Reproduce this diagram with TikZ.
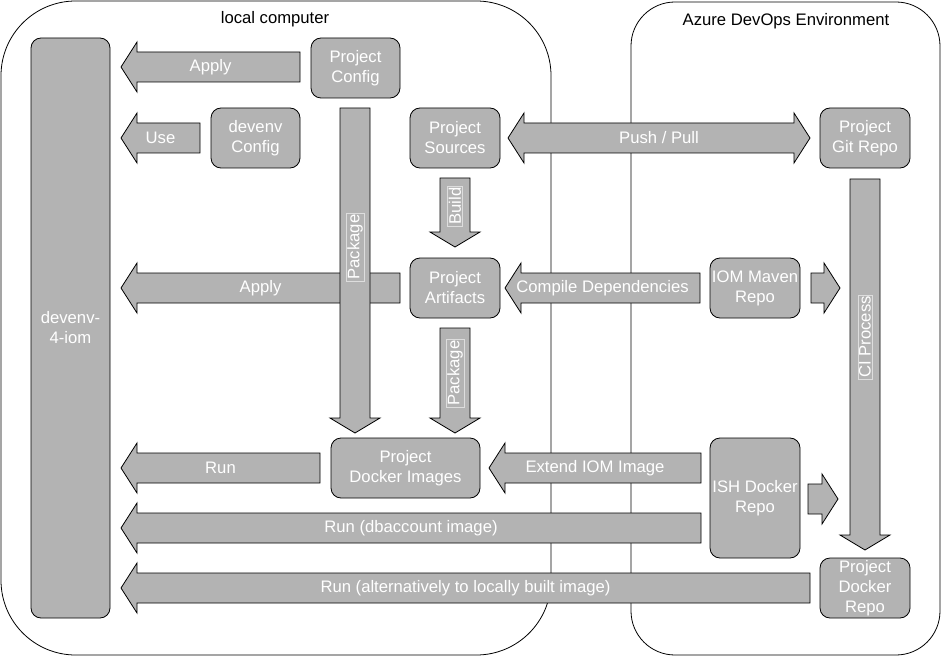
\documentclass[tikz,border=0pt]{standalone}
\usepackage{fontspec}
\setmainfont{Liberation Sans}
\definecolor{blkfill}{HTML}{B3B3B3}
\newcommand\fs{\fontsize{12.5}{15}\selectfont}
\tikzset{
  blk/.style={fill=blkfill, draw=black, line width=0.6pt, line join=miter},
  box/.style={fill=blkfill, draw=black, line width=0.6pt, rounded corners=7.5pt,
    text=white, align=center, inner sep=0pt, font=\fs},
  lbl/.style={text=white, font=\fs, inner sep=1pt},
  vlbl/.style={text=white, font=\fs, rotate=90, draw=white!55!blkfill, line width=0.35pt, inner sep=1pt},
  cont/.style={draw=black, line width=0.6pt, fill=white},
  ttl/.style={font=\fs, text=black}
}
% left block arrow: name, tip x, centre y, right end x, label
\newcommand\larr[5]{%
  \draw[blk] (#2,#3) -- ++(16,-25) -- ++(0,10) -- (#4,#3-15) -- (#4,#3+15) -- (#2+16,#3+15) -- ++(0,10) -- cycle;
  \node[lbl] (#1) at ({(#2+#4)/2},#3) {#5};}
% down block arrow: name, centre x, top y, tip y, label y, label
\newcommand\darr[6]{%
  \draw[blk] (#2,#4) -- ++(-25,-15) -- ++(10,0) -- (#2-15,#3) -- (#2+15,#3) -- (#2+15,#4-15) -- ++(10,0) -- cycle;
  \node[vlbl] (#1) at (#2,#5) {#6};}
% right block arrow: left x, centre y, tip x
\newcommand\rarr[3]{%
  \draw[blk] (#3,#2) -- ++(-16,-25) -- ++(0,10) -- (#1,#2-15) -- (#1,#2+15) -- (#3-16,#2+15) -- ++(0,10) -- cycle;}
% box: name, x1, y1, x2, y2, text
\newcommand\pbox[6]{%
  \node[box, minimum width={(#4-#2)*0.75pt}, minimum height={(#5-#3)*0.75pt}] (#1) at ({(#2+#4)/2},{(#3+#5)/2}) {#6};}
\begin{document}
\begin{tikzpicture}[x=0.75pt, y=-0.75pt]
\useasboundingbox (0,0) rectangle (942,656);
% containers
\draw[cont, rounded corners=56pt] (1,1) rectangle (551,655);
\draw[cont, rounded corners=33pt] (631,2) rectangle (940,655);
\node[ttl] (tlocal) at (275,19) {local computer};
\node[ttl] (tazure) at (786,21) {Azure DevOps Environment};
% arrows
\larr{a1}{121}{67}{300}{Apply}
\larr{a2}{121}{138}{200}{Use}
\larr{a3}{121}{288}{400}{Apply}
\darr{pk1}{355}{108}{433}{247}{Package}
\darr{bd}{455}{178}{247}{206}{Build}
\darr{pk2}{455}{328}{433}{373}{Package}
\larr{cd}{505}{288}{700}{Compile Dependencies}
\rarr{811}{288}{840}
\darr{ci}{865}{179}{550}{337}{CI Process}
\larr{run1}{121}{468}{320}{Run}
\larr{ext}{489}{468}{701}{Extend IOM Image}
\rarr{808}{499}{838}
\larr{run2}{121}{528}{701}{Run (dbaccount image)}
\larr{run3}{121}{588}{810}{Run (alternatively to locally built image)}
\draw[blk] (508,138) -- ++(16,-25) -- ++(0,10) -- (794,123) -- ++(0,-10) -- (810,138)
  -- ++(-16,25) -- ++(0,-10) -- (524,153) -- ++(0,10) -- cycle;
\node[lbl] (pp) at (659,138) {Push / Pull};
% boxes
\pbox{dev}{31}{38}{110}{618}{devenv-\\4-iom}
\pbox{pconf}{311}{38}{400}{98}{Project\\Config}
\pbox{dconf}{211}{108}{300}{168}{devenv\\Config}
\pbox{psrc}{410}{108}{500}{168}{Project\\Sources}
\pbox{git}{820}{108}{910}{168}{Project\\Git Repo}
\pbox{art}{410}{258}{500}{318}{Project\\Artifacts}
\pbox{maven}{710}{258}{800}{318}{IOM Maven\\Repo}
\pbox{pdi}{331}{438}{480}{498}{Project\\Docker Images}
\pbox{ish}{710}{438}{800}{558}{ISH Docker\\Repo}
\pbox{pdr}{820}{558}{910}{618}{Project\\Docker\\Repo}
\end{tikzpicture}
\end{document}
